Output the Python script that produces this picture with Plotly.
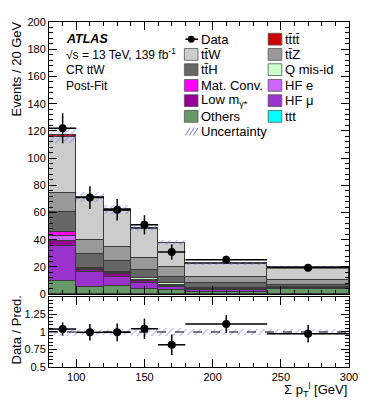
import plotly.graph_objects as go

# binning (GeV) and per-20-GeV yields
bin_lo = [80, 100, 120, 140, 160, 180, 240]
bin_hi = [100, 120, 140, 160, 180, 240, 300]

others = [10.0, 5.5, 6.3, 4.1, 2.8, 1.8, 4.0]
hf_mu = [25.4, 10.6, 6.0, 4.1, 2.4, 1.0, 0.3]
low_mgamma = [3.4, 1.5, 2.4, 1.5, 0.8, 0.3, 0.1]
hf_e = [4.3, 0.8, 0.7, 0.4, 0.3, 0.2, 0.1]
mat_conv = [2.4, 0.6, 0.6, 0.4, 0.3, 0.2, 0.1]
q_misid = [0.5, 0.5, 0.5, 1.2, 1.4, 1.2, 1.0]
tth = [14.5, 9.9, 7.8, 6.0, 4.3, 3.5, 1.5]
ttz = [14.0, 10.1, 10.2, 8.6, 7.5, 4.5, 3.0]
ttw = [41.0, 31.0, 27.0, 21.8, 17.6, 9.6, 9.5]
tttt = [1.5, 0.8, 0.7, 0.6, 0.5, 0.4, 0.3]
ttt = [0.1, 0.05, 0.05, 0.05, 0.05, 0.02, 0.02]

data = [122, 71, 62, 51, 31, 25.3, 19.4]
data_err = [11.0, 8.4, 7.9, 7.1, 5.6, 2.9, 2.5]
unc = [6.0, 3.5, 3.0, 2.5, 2.0, 1.0, 0.8]

x_ticks = [100, 150, 200, 250, 300]
ratio_ticks = [0.5, 0.75, 1, 1.25]
ratio_tick_text = ["0.5", "0.75", "1", "1.25"]

TB = "t\u0304"
samples = [
    ("Others", others, "#669966"),
    ("HF \u03bc", hf_mu, "#9933cc"),
    ("Low m<sub>\u03b3*</sub>", low_mgamma, "#990099"),
    ("HF e", hf_e, "#cc66ff"),
    ("Mat. Conv.", mat_conv, "#ff00ff"),
    ("Q mis-id", q_misid, "#ccffcc"),
    ("t" + TB + "H", tth, "#666666"),
    ("t" + TB + "Z", ttz, "#999999"),
    ("t" + TB + "W", ttw, "#cccccc"),
    ("t" + TB + "t" + TB, tttt, "#cc0000"),
    ("ttt", ttt, "#00ffff"),
]

centers = [(a + b) / 2 for a, b in zip(bin_lo, bin_hi)]
widths = [b - a for a, b in zip(bin_lo, bin_hi)]
half = [w / 2 for w in widths]
total = [sum(s[1][i] for s in samples) for i in range(len(centers))]
ratio = [d / t for d, t in zip(data, total)]
ratio_err = [e / t for e, t in zip(data_err, total)]
rel_unc = [u / t for u, t in zip(unc, total)]

FONT = "Liberation Sans, Arial, sans-serif"
HATCH = "#7070ff"

fig = go.Figure()

for name, vals, col in samples:
    fig.add_trace(go.Bar(x=centers, y=vals, width=widths, name=name,
                         marker=dict(color=col, line=dict(color="#3a3a3a", width=1)),
                         xaxis="x", yaxis="y"))

# uncertainty band (base set -> drawn overlaid, not stacked)
fig.add_trace(go.Bar(x=centers, y=[2 * u for u in unc], width=widths,
                     base=[t - u for t, u in zip(total, unc)],
                     marker=dict(color="rgba(0,0,0,0)", line=dict(width=0),
                                 pattern=dict(shape="/", fgcolor=HATCH, size=5, solidity=0.25)),
                     xaxis="x", yaxis="y"))

fig.add_trace(go.Scatter(x=centers, y=data, mode="markers",
                         marker=dict(color="black", size=8),
                         error_y=dict(type="data", array=data_err, color="black", thickness=1.5, width=0),
                         error_x=dict(type="data", array=half, color="black", thickness=1.5, width=0),
                         xaxis="x", yaxis="y"))

# ratio panel
fig.add_trace(go.Bar(x=centers, y=[2 * r for r in rel_unc], width=widths,
                     base=[1 - r for r in rel_unc],
                     marker=dict(color="rgba(0,0,0,0)", line=dict(width=0),
                                 pattern=dict(shape="/", fgcolor=HATCH, size=5, solidity=0.25)),
                     xaxis="x2", yaxis="y2"))
fig.add_trace(go.Scatter(x=centers, y=ratio, mode="markers",
                         marker=dict(color="black", size=8),
                         error_y=dict(type="data", array=ratio_err, color="black", thickness=1.5, width=0),
                         error_x=dict(type="data", array=half, color="black", thickness=1.5, width=0),
                         xaxis="x2", yaxis="y2"))

axis_common = dict(showline=True, linecolor="black", linewidth=1, mirror="allticks",
                   ticks="inside", ticklen=8, tickcolor="black", showgrid=False, zeroline=False,
                   ticklabeloverflow="allow",
                   tickfont=dict(family=FONT, size=11, color="black"))

# the page body has an 8 px margin all round; keep the figure inside the window
fig.update_layout(
    width=358, height=391,
    margin=dict(l=41, r=9, t=8, b=32),
    paper_bgcolor="white", plot_bgcolor="white",
    barmode="stack", bargap=0, showlegend=False,
    font=dict(family=FONT, color="black"),
    xaxis=dict(range=[80, 300], tickvals=x_ticks, showticklabels=False, anchor="y",
               minor=dict(dtick=10, ticklen=4, ticks="inside", tickcolor="black"), **axis_common),
    yaxis=dict(range=[0, 200], dtick=20, domain=[0.211, 1], anchor="x",
               minor=dict(dtick=4, ticklen=4, ticks="inside", tickcolor="black"), **axis_common),
    xaxis2=dict(range=[80, 300], tickvals=x_ticks, matches="x", anchor="y2",
                minor=dict(dtick=10, ticklen=4, ticks="inside", tickcolor="black"), **axis_common),
    yaxis2=dict(range=[0.5, 1.5], tickvals=ratio_ticks, ticktext=ratio_tick_text,
                domain=[0, 0.203], anchor="x2",
                minor=dict(dtick=0.05, ticklen=4, ticks="inside", tickcolor="black"), **axis_common),
)

fig.add_shape(type="line", xref="x2", yref="y2", x0=80, x1=300, y0=1, y1=1,
              line=dict(color="black", width=1, dash="dash"))


# window pixel -> paper helpers for the hand-built legend and labels
def px(x):
    return (x - 49) / 308


def py(y):
    return (367 - y) / 351


def note(x, y, text, size=12, **kw):
    fig.add_annotation(x=px(x), y=py(y), xref="paper", yref="paper", text=text, showarrow=False,
                       xanchor=kw.pop("xanchor", "left"), yanchor=kw.pop("yanchor", "middle"),
                       font=dict(family=FONT, size=size, color="black"), **kw)


note(64, 33, "<b><i>ATLAS</i></b>", 12.5)
note(64, 49, "\u221as = 13 TeV, 139 fb<sup>-1</sup>", 12)
note(64, 65, "CR ttW", 12)
note(64, 81, "Post-Fit", 12)

note(357, 390, "\u03a3 p<sub>T</sub><sup>l</sup> [GeV]", 13, xanchor="right")
note(16, 13, "Events / 20 GeV", 13, xanchor="center", yanchor="top", textangle=-90)
note(16, 329, "Data / Pred.", 13, xanchor="center", textangle=-90)

# legend, two columns as in the ROOT original
rows = [33.5, 49, 64.5, 80.5, 96, 112, 127.5]
cols = [188, 274]
by_name = {s[0]: s[2] for s in samples}
legend_items = ["Data", "t" + TB + "t" + TB, "t" + TB + "W", "t" + TB + "Z", "t" + TB + "H", "Q mis-id",
                "Mat. Conv.", "HF e", "Low m<sub>\u03b3*</sub>", "HF \u03bc", "Others", "ttt", "Uncertainty"]
for k, name in enumerate(legend_items):
    x0 = cols[k % 2]
    yc = rows[k // 2]
    if name == "Data":
        fig.add_shape(type="line", xref="paper", yref="paper", x0=px(x0 + 1), x1=px(x0 + 14),
                      y0=py(yc), y1=py(yc), line=dict(color="black", width=1.5))
        fig.add_shape(type="circle", xref="paper", yref="paper", x0=px(x0 + 3.5), x1=px(x0 + 10.5),
                      y0=py(yc - 3.5), y1=py(yc + 3.5), fillcolor="black", line=dict(width=0))
    elif name == "Uncertainty":
        for d in [0, 4, 8]:
            fig.add_shape(type="line", xref="paper", yref="paper", x0=px(x0 + 1 + d), x1=px(x0 + 6 + d),
                          y0=py(yc + 4), y1=py(yc - 4), line=dict(color=HATCH, width=1))
    else:
        fig.add_shape(type="rect", xref="paper", yref="paper", x0=px(x0), x1=px(x0 + 14),
                      y0=py(yc + 6), y1=py(yc - 6), fillcolor=by_name[name],
                      line=dict(color="#555555", width=0.8))
    note(x0 + 15, yc, name, 13)

fig.write_html("out.html")
